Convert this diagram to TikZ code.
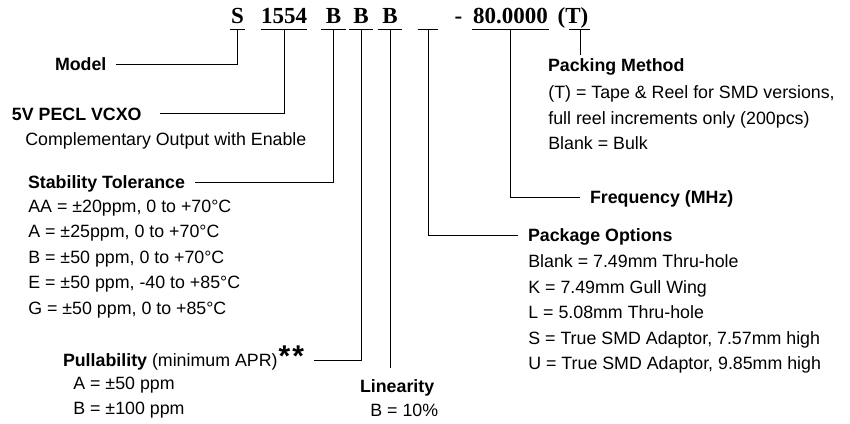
\documentclass[tikz,border=0pt]{standalone}
\usepackage{fontspec}
\setmainfont{Liberation Sans}
\newfontfamily\codefont{Liberation Serif}
\usepackage{tikz}
\usetikzlibrary{positioning}
\tikzset{pn_chart/.style={x=1pt,y=-1pt,line width=0.7pt}}
\tikzset{pn_code/.style={font=\codefont\bfseries\fontsize{23}{26}\selectfont, anchor=base, inner ysep=0pt, inner xsep=1pt, text depth=6pt}}
\tikzset{pn_label/.style={font=\bfseries\fontsize{17.8}{25.5}\selectfont, anchor=base west, inner sep=0pt, outer xsep=10pt, text height=12.8pt, text depth=0pt}}
\tikzset{pn_detail/.style={font=\fontsize{17.8}{25.5}\selectfont, align=left, anchor=north west, inner sep=0pt}}

\begin{document}
\begin{tikzpicture}[pn_chart]
    \useasboundingbox (0,0) rectangle (850,423);
    %\draw[help lines, step=50] (0,0) grid (850,423);

    % part number
    \node[pn_code] (s) at (237.5,23) {S};
    \node[pn_code, inner xsep=0pt] (num) at (284,23) {1554};
    \node[pn_code, inner xsep=4pt] (b1) at (333.5,23) {B};
    \node[pn_code, inner xsep=4pt] (b2) at (361,23) {B};
    \node[pn_code, inner xsep=4pt] (b3) at (390,23) {B};
    \node[pn_code, minimum width=20pt, inner xsep=0pt] (blank) at (428,23) {};
    \node[pn_code] (dash) at (458.5,23) {-};
    \node[pn_code] (fcode) at (510.5,23) {80.0000};
    \node[pn_code] (pk) at (573,23) {(T)};
    \foreach \n in {s,num,b1,b2,b3,blank,fcode}
        \draw (\n.south west) -- (\n.south east);
    \draw ([xshift=13pt]pk.south west) -- (pk.south east);

    % left side
    \node[pn_label] (model) at (45,70.5) {Model};
    \node[pn_label] (pecl) at (2,120) {5V PECL VCXO};
    \node[pn_detail] (comp) at (25,132.2) {Complementary Output with Enable};
    \node[pn_label] (stab) at (18,188.5) {Stability Tolerance};
    \node[pn_detail] (stablist) at (28,199.7) {AA = ±20ppm, 0 to +70°C\\
        A = ±25ppm, 0 to +70°C\\
        B = ±50 ppm, 0 to +70°C\\
        E = ±50 ppm, -40 to +85°C\\
        G = ±50 ppm, 0 to +85°C};
    \node[pn_label] (pull) at (53,366.5)
        {Pullability \mdseries(minimum APR){\bfseries\fontsize{30}{30}\selectfont\kern1pt*\kern2pt*}};
    \node[pn_detail] (pulllist) at (73,376.7) {A = ±50 ppm\\B = ±100 ppm};
    \node[pn_label] (lin) at (350,392.5) {Linearity};
    \node[pn_detail] (linlist) at (370,403.7) {B = 10\%};

    % right side
    \node[pn_label] (pack) at (538,71.5) {Packing Method};
    \node[pn_detail] (packlist) at (548,85.7) {(T) = Tape \& Reel for SMD versions,\\
        full reel increments only (200pcs)\\
        Blank = Bulk};
    \node[pn_label] (freq) at (580,203.5) {Frequency (MHz)};
    \node[pn_label] (opts) at (518,241.5) {Package Options};
    \node[pn_detail] (optslist) at (528,254.7) {Blank = 7.49mm Thru-hole\\
        K = 7.49mm Gull Wing\\
        L = 5.08mm Thru-hole\\
        S = True SMD Adaptor, 7.57mm high\\
        U = True SMD Adaptor, 9.85mm high};

    % leaders
    \draw (s.south) |- (model.east);
    \draw[shorten >=8pt] (num.south) |- (pecl.east);
    \draw (b1.south) |- (stab.east);
    \draw (b2.south) |- (pull.east);
    \draw[shorten >=11.7pt] (b3.south) -- (b3.south |- lin.north);
    \draw (blank.south) |- (opts.west);
    \draw (fcode.south) |- (freq.west);
    \draw[shorten >=3.7pt] ([xshift=7pt]pk.south) -- ([xshift=7pt]pk.south |- pack.north);
\end{tikzpicture}
\end{document}
